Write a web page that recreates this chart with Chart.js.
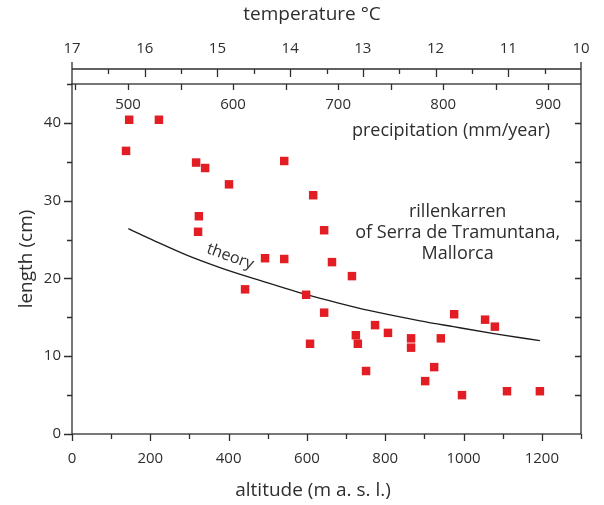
<!DOCTYPE html>
<html>
<head>
<meta charset="utf-8">
<script src="https://cdn.jsdelivr.net/npm/chart.js@4"></script>
<style>
  body { margin: 0; background: #fff; }
  #wrap { width: 604px; height: 505px; }
</style>
</head>
<body>
<div id="wrap"><canvas id="chart" width="604" height="505"></canvas></div>
<script>
// DATA
const altitude = [146, 222, 138, 317, 340, 401, 542, 616, 324, 322, 644, 664, 493, 542, 715, 442, 598, 644,
                  608, 725, 730, 774, 807, 751, 866, 866, 925, 902, 942, 976, 1055, 1080, 996, 1111, 1195];
const lengthCm = [40.4, 40.4, 36.4, 34.9, 34.2, 32.1, 35.1, 30.7, 28.0, 26.0, 26.2, 22.1, 22.6, 22.5, 20.3, 18.6, 17.9, 15.6,
                  11.6, 12.7, 11.6, 14.0, 13.0, 8.1, 12.3, 11.1, 8.6, 6.8, 12.3, 15.4, 14.7, 13.8, 5.0, 5.5, 5.5];

const theoryAltitude = [144, 208, 293, 378, 463, 531, 598, 676, 761, 889, 974, 1085, 1195];
const theoryLength   = [26.4, 24.9, 23.0, 21.4, 20.0, 18.95, 17.95, 16.9, 15.85, 14.55, 13.8, 12.85, 12.0];

const altitudeRange = [0, 1300];
const lengthRange = [0, 45];
const precipRange = [446.7, 931.2];   // mm/year across the plot width
const tempRange = [10, 17];           // °C, reversed
const precipLabels = [500, 600, 700, 800, 900];
const tempLabels = [17, 16, 15, 14, 13, 12, 11, 10];

const INK = "#2e2e2e";
const RED = "#e21d24";
const FONT = "'Open Sans', sans-serif";

// FRAME + EXTRA AXES
const framePlugin = {
    id: "frame",
    afterDatasetsDraw(chart) {
        const c = chart.ctx;
        const a = chart.chartArea;
        const xs = chart.scales.x, ys = chart.scales.y;
        const ps = chart.scales.p, ts = chart.scales.t;

        c.save();
        c.strokeStyle = INK;
        c.fillStyle = INK;
        c.lineWidth = 1.3;

        // plot box
        c.strokeRect(a.left, a.top, a.right - a.left, a.bottom - a.top);

        c.beginPath();
        // left (outside) and right (inside) ticks
        for (let v = lengthRange[0]; v <= lengthRange[1]; v += 5) {
            const y = Math.round(ys.getPixelForValue(v)) + 0.5;
            const len = v % 10 === 0 ? 8 : 5;
            c.moveTo(a.left - len, y); c.lineTo(a.left, y);
            if (v > 0 && v < 45) { c.moveTo(a.right - 6, y); c.lineTo(a.right, y); }
        }
        // bottom ticks
        for (let v = altitudeRange[0]; v <= altitudeRange[1]; v += 100) {
            const x = Math.round(xs.getPixelForValue(v)) + 0.5;
            const len = v % 200 === 0 ? 7 : 5;
            c.moveTo(x, a.bottom); c.lineTo(x, a.bottom + len);
        }
        // precipitation ticks (inside, from top)
        for (let v = 450; v <= 900; v += 50) {
            const x = Math.round(ps.getPixelForValue(v)) + 0.5;
            c.moveTo(x, a.top); c.lineTo(x, a.top + 6);
        }
        // temperature band
        const tLine = a.top - 15;
        c.moveTo(a.left, tLine); c.lineTo(a.right, tLine);
        c.moveTo(a.left, tLine - 7); c.lineTo(a.left, a.top);
        c.moveTo(a.right, tLine - 7); c.lineTo(a.right, a.top);
        for (let v = 10.5; v < 17; v += 0.5) {
            const x = Math.round(ts.getPixelForValue(v)) + 0.5;
            const len = Number.isInteger(v) ? 8 : 5;
            c.moveTo(x, tLine); c.lineTo(x, tLine + len);
        }
        c.stroke();

        // labels
        c.textAlign = "center";
        c.textBaseline = "middle";
        c.font = "15px " + FONT;
        precipLabels.forEach(v => c.fillText(String(v), ps.getPixelForValue(v), a.top + 21));
        tempLabels.forEach(v => c.fillText(String(v), ts.getPixelForValue(v), tLine - 20));

        c.font = "19px " + FONT;
        c.fillText("temperature °C", 312, 15);
        c.fillText("altitude (m a. s. l.)", 313, 491);

        c.font = "18px " + FONT;
        c.fillText("precipitation (mm/year)", xs.getPixelForValue(968), ys.getPixelForValue(39));

        c.fillText("rillenkarren", xs.getPixelForValue(985), ys.getPixelForValue(28.5));
        c.fillText("of Serra de Tramuntana,", xs.getPixelForValue(985), ys.getPixelForValue(25.8));
        c.fillText("Mallorca", xs.getPixelForValue(985), ys.getPixelForValue(23.1));

        // theory label
        c.translate(xs.getPixelForValue(404), ys.getPixelForValue(22.8));
        c.rotate(20 * Math.PI / 180);
        c.font = "16px " + FONT;
        c.fillText("theory", 0, 0);
        c.restore();
    }
};

new Chart(document.getElementById("chart"), {
    type: "scatter",
    data: {
        datasets: [
            {
                label: "rillenkarren",
                data: altitude.map((x, i) => ({ x: x, y: lengthCm[i] })),
                pointStyle: "rect",
                pointRadius: 6,
                backgroundColor: RED,
                borderWidth: 0,
                order: 0
            },
            {
                label: "theory",
                data: theoryAltitude.map((x, i) => ({ x: x, y: theoryLength[i] })),
                showLine: true,
                cubicInterpolationMode: "monotone",
                borderColor: "#1c1c1c",
                borderWidth: 1.3,
                pointRadius: 0,
                order: 1
            }
        ]
    },
    options: {
        responsive: false,
        animation: false,
        layout: { padding: { top: 84, right: 23, left: 0, bottom: 0 } },
        plugins: { legend: { display: false }, tooltip: { enabled: false } },
        scales: {
            x: {
                type: "linear",
                min: altitudeRange[0], max: altitudeRange[1],
                afterFit: s => { s.height = 71; },
                grid: { display: false, drawTicks: true, tickLength: 7 },
                border: { display: false },
                ticks: {
                    stepSize: 100, autoSkip: false, maxRotation: 0, padding: 9,
                    color: INK, font: { family: FONT, size: 15 },
                    callback: v => v % 200 === 0 ? v : ""
                },
                title: { display: false }
            },
            y: {
                type: "linear",
                min: lengthRange[0], max: lengthRange[1],
                afterFit: s => { s.width = 72; },
                grid: { display: false, drawTicks: true, tickLength: 8 },
                border: { display: false },
                ticks: {
                    stepSize: 5, autoSkip: false, padding: 3,
                    color: INK, font: { family: FONT, size: 15 },
                    callback: v => v % 10 === 0 ? v : ""
                },
                title: {
                    display: true, text: "length (cm)", color: INK,
                    font: { family: FONT, size: 19 }, padding: { top: 15, bottom: 0 }
                }
            },
            p: { type: "linear", axis: "x", display: false, min: precipRange[0], max: precipRange[1] },
            t: { type: "linear", axis: "x", display: false, reverse: true, min: tempRange[0], max: tempRange[1] }
        }
    },
    plugins: [framePlugin]
});
</script>
</body>
</html>
